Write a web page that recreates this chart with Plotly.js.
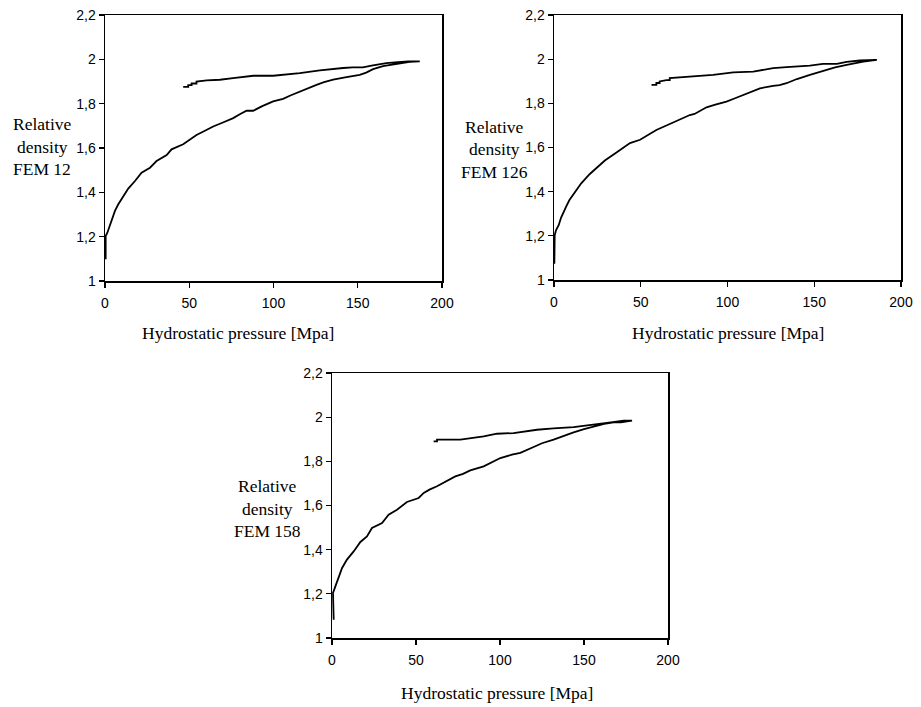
<!DOCTYPE html>
<html>
<head>
<meta charset="utf-8">
<script src="https://cdn.plot.ly/plotly-3.0.1.min.js"></script>
<style>html,body{margin:0;padding:0;background:#fff;}#chart{width:921px;height:707px;}</style>
</head>
<body>
<div id="chart"></div>
<script>
// ---- data ----
const panelNames = ["FEM 12", "FEM 126", "FEM 158"];
const xTitle = "Hydrostatic pressure [Mpa]";
const yTitleLines = ["Relative", "density"];

// Panel 1 (FEM 12): loading then unloading path
const pressure1 = [0.4,0.4,1.4,2.6,4,5.9,7.9,9.9,13.8,17.8,21.7,26.7,30.6,36.6,39.5,46.4,50.4,54.3,59,64.2,70,76.1,80,84,88,93,99.8,105.7,110,115.6,120,125.5,130,135.4,143.3,151.2,155,159.1,165,170,174.9,180.8,186.8,
  179.8,172,167,159,153,147,141.3,127.5,115.6,99.8,88,76,68.2,60.3,56.3,54.3,54.3,51.4,51.4,49.4,49.4,46.4];
const density1 = [1.098,1.203,1.218,1.245,1.274,1.316,1.346,1.371,1.417,1.451,1.489,1.511,1.541,1.568,1.594,1.617,1.639,1.659,1.677,1.697,1.715,1.735,1.752,1.768,1.768,1.788,1.81,1.822,1.837,1.855,1.869,1.885,1.897,1.908,1.92,1.93,1.94,1.956,1.969,1.975,1.98,1.989,1.991,
  1.991,1.986,1.983,1.973,1.964,1.964,1.961,1.95,1.938,1.926,1.926,1.915,1.908,1.905,1.9,1.9,1.891,1.891,1.884,1.884,1.876,1.876];

// Panel 2 (FEM 126)
const pressure2 = [0.2,0.4,1.2,2.7,4.1,5.4,7,8.9,11.8,15.7,20.5,25.4,29.3,36,43.8,49.6,55,59,63.5,68.7,73.5,78.3,81,87.9,93,99.4,104,109,113,118.7,126.3,130,134,140,147.5,152,157,162,168.7,173,178.3,186,
  182,176.3,168.7,163,155,147.5,134,126.3,114.8,103.3,91.7,80.2,70.6,66.7,66.7,64.8,60.9,60.9,59,59,56.2];
const density2 = [1.074,1.203,1.226,1.248,1.283,1.309,1.332,1.362,1.397,1.438,1.479,1.514,1.541,1.577,1.62,1.635,1.66,1.679,1.695,1.712,1.728,1.747,1.752,1.782,1.794,1.808,1.822,1.838,1.852,1.868,1.879,1.882,1.891,1.91,1.929,1.94,1.952,1.963,1.974,1.981,1.989,1.997,
  1.997,1.994,1.988,1.979,1.979,1.971,1.964,1.959,1.944,1.94,1.929,1.921,1.914,1.914,1.905,1.905,1.899,1.892,1.892,1.884,1.884];

// Panel 3 (FEM 158)
const pressure3 = [1,0.6,2,4,6,8.9,12.9,16.9,20.8,23.8,26.5,29.8,33.7,38.7,44.6,51.6,54.6,58,62.5,68,73.4,78,82.3,90.3,95,100.2,107.1,112.1,120,125,131.9,137,143.8,150,155.8,162,167.7,172,178.6,
  173.6,163.7,153.8,143.8,131.9,122,108.1,98.2,90.3,82.3,76.4,63.5,62.5,62.5,60.5];
const density3 = [1.083,1.204,1.234,1.279,1.317,1.355,1.392,1.435,1.46,1.498,1.51,1.521,1.558,1.581,1.616,1.634,1.657,1.672,1.687,1.71,1.732,1.743,1.759,1.777,1.795,1.815,1.83,1.838,1.865,1.882,1.898,1.913,1.931,1.946,1.958,1.97,1.976,1.977,1.984,
  1.984,1.974,1.966,1.955,1.949,1.943,1.928,1.925,1.913,1.906,1.898,1.898,1.898,1.89,1.89];

const xTicks = [0, 50, 100, 150, 200];
const yTicks = [1, 1.2, 1.4, 1.6, 1.8, 2, 2.2];

// ---- layout geometry ----
const W = 921, H = 707;
const boxes = [
  {l:105, r:442, t:15, b:281, ytx:42,  yty:[124,147,169], xtx:238, xty:333},
  {l:554, r:901, t:15, b:280, ytx:494, yty:[127,149,172], xtx:728, xty:333},
  {l:332, r:668, t:373, b:638, ytx:267, yty:[486,509,531], xtx:497, xty:693}
];
const serif = "Liberation Serif, Times New Roman, serif";
const sans = "Liberation Sans, Arial, sans-serif";

const series = [[pressure1, density1], [pressure2, density2], [pressure3, density3]];
const traces = series.map((s, i) => ({
  x: s[0], y: s[1], type: "scatter", mode: "lines",
  xaxis: i === 0 ? "x" : "x" + (i + 1),
  yaxis: i === 0 ? "y" : "y" + (i + 1),
  line: {color: "#000", width: 1.8},
  hoverinfo: "skip", showlegend: false
}));

const layout = {
  width: W, height: H,
  margin: {l: 0, r: 0, t: 0, b: 0},
  paper_bgcolor: "#fff", plot_bgcolor: "#fff",
  separators: ", ",
  showlegend: false,
  annotations: []
};

boxes.forEach((b, i) => {
  const xk = i === 0 ? "xaxis" : "xaxis" + (i + 1);
  const yk = i === 0 ? "yaxis" : "yaxis" + (i + 1);
  const common = {
    showline: true, mirror: true, linecolor: "#000", linewidth: 1.5,
    ticks: "outside", ticklen: 5, tickwidth: 1.3, tickcolor: "#000",
    showgrid: false, zeroline: false, fixedrange: true,
    tickfont: {family: sans, size: 14, color: "#000"}
  };
  layout[xk] = Object.assign({}, common, {
    domain: [b.l / W, b.r / W], range: [0, 200],
    tickmode: "array", tickvals: xTicks, ticktext: xTicks.map(String),
    anchor: i === 0 ? "y" : "y" + (i + 1), ticklabelstandoff: 4
  });
  layout[yk] = Object.assign({}, common, {
    domain: [1 - b.b / H, 1 - b.t / H], range: [1, 2.2],
    tickmode: "array", tickvals: yTicks,
    ticktext: yTicks.map(v => String(v).replace(".", ",")),
    anchor: i === 0 ? "x" : "x" + (i + 1)
  });
  const lines = yTitleLines.concat([panelNames[i]]);
  lines.forEach((t, j) => {
    layout.annotations.push({
      xref: "paper", yref: "paper", x: b.ytx / W, y: 1 - b.yty[j] / H,
      xanchor: "center", yanchor: "middle", showarrow: false, text: t,
      font: {family: serif, size: 17.5, color: "#000"}
    });
  });
  layout.annotations.push({
    xref: "paper", yref: "paper", x: b.xtx / W, y: 1 - b.xty / H,
    xanchor: "center", yanchor: "middle", showarrow: false, text: xTitle,
    font: {family: serif, size: 17.5, color: "#000"}
  });
});

Plotly.newPlot("chart", traces, layout, {staticPlot: true, displayModeBar: false});
</script>
</body>
</html>
